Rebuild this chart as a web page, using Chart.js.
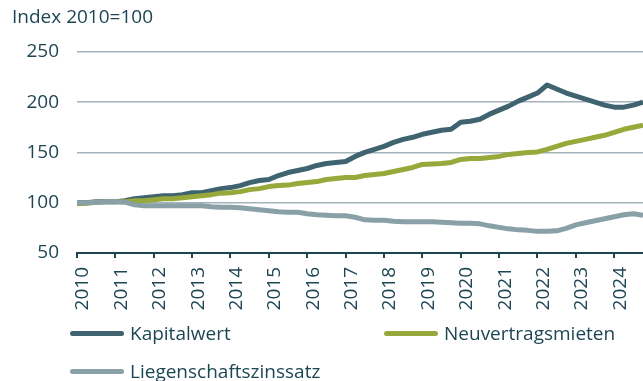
<!DOCTYPE html>
<html lang="de">
<head>
<meta charset="utf-8">
<script src="https://cdn.jsdelivr.net/npm/chart.js@4.4.1/dist/chart.umd.min.js"></script>
<style>
  html, body { margin: 0; padding: 0; background: #fff; overflow: hidden; }
  #wrap { position: relative; width: 643px; height: 381px; }
  #legend { position: absolute; left: 70px; top: 320px; width: 573px;
            font-family: "Open Sans", sans-serif; font-size: 19px; color: #1d4654;
            display: grid; grid-template-columns: 314px 259px; row-gap: 12px; }
  .item { display: flex; align-items: center; white-space: nowrap; height: 26px; }
  .swatch { width: 54px; height: 5px; border-radius: 3px; margin-right: 6px; }
</style>
</head>
<body>
<div id="wrap">
  <canvas id="indexChart" width="643" height="381"></canvas>
  <div id="legend"></div>
</div>
<script>
// Quartale 2010 Q1 bis 2024 Q4
const quarters = [];
for (let y = 2010; y <= 2024; y++) {
    for (let q = 1; q <= 4; q++) quarters.push(y + ' Q' + q);
}

// Indexwerte, 2010 = 100
const kapitalwert = [
    100, 100, 101, 101,   101, 102, 104, 105,   106, 107, 107, 108,
    110, 110, 112, 114,   115, 117, 120, 122,   123, 127, 130, 132,
    134, 137, 139, 140,   141, 146, 150, 153,   156, 160, 163, 165,
    168, 170, 172, 173,   180, 181, 183, 188,   192, 196, 201, 205,
    209, 217, 213, 209,   206, 203, 200, 197,   195, 195, 197, 200
];
const neuvertragsmieten = [
    99, 99.5, 100.5, 101, 101, 101, 102, 102,   103, 104, 104, 105,
    106, 107, 108, 109.5, 110, 111, 113, 114,   116, 117, 117.5, 119,
    120, 121, 123, 124,   125, 125, 127, 128,   129, 131, 133, 135,
    138, 138.5, 139, 140, 143, 144, 144, 145,   146, 148, 149, 150,
    150.5, 153, 156, 159, 161, 163, 165, 167,   170, 173, 175, 177
];
const liegenschaftszinssatz = [
    100, 100, 100.5, 101, 101, 100.5, 98, 97,   97, 97, 97, 97,
    97, 97, 96, 95.5,     95.5, 95, 94, 93,     92, 91, 90.5, 90.5,
    89, 88, 87.5, 87,     87, 85.5, 83, 82.5,   82.5, 81.5, 81, 81,
    81, 81, 80.5, 80,     79.5, 79.5, 79, 77,   75.5, 74, 73, 72.5,
    71.5, 71.5, 72, 74.5, 78, 80, 82, 84,       86, 88, 89, 87.5
];

const yTicks = [50, 100, 150, 200, 250];

const series = [
    { label: 'Kapitalwert', data: kapitalwert, color: '#3f6470', order: 2 },
    { label: 'Neuvertragsmieten', data: neuvertragsmieten, color: '#97a93a', order: 1 },
    { label: 'Liegenschaftszinssatz', data: liegenschaftszinssatz, color: '#89a0a7', order: 0 }
];

const textColor = '#1d4654';
const fontFamily = '"Open Sans", sans-serif';

new Chart(document.getElementById('indexChart'), {
    type: 'line',
    data: {
        labels: quarters,
        datasets: series.map(s => ({
            label: s.label,
            data: s.data,
            borderColor: s.color,
            backgroundColor: s.color,
            borderWidth: 5,
            borderJoinStyle: 'round',
            pointRadius: 0,
            tension: 0,
            order: s.order
        }))
    },
    options: {
        responsive: false,
        animation: false,
        layout: { padding: { left: 12, right: 0, top: 6, bottom: 69 } },
        plugins: {
            legend: { display: false },
            tooltip: { enabled: false },
            title: {
                display: true,
                text: 'Index 2010=100',
                align: 'start',
                color: textColor,
                font: { family: fontFamily, size: 19, weight: 'normal' },
                padding: { top: 0, bottom: 23 }
            }
        },
        scales: {
            x: {
                offset: false,
                // feste Höhe, kein Rand rechts: letzter Punkt am Canvas-Rand
                afterFit: scale => { scale.height = 59; scale.paddingRight = 0; scale.paddingLeft = 0; },
                grid: { drawOnChartArea: false, color: textColor, lineWidth: 2, tickLength: 5 },
                border: { color: textColor, width: 2 },
                ticks: {
                    autoSkip: false,
                    maxRotation: 90,
                    minRotation: 90,
                    padding: 9,
                    labelOffset: 6,
                    color: textColor,
                    font: { family: fontFamily, size: 19 },
                    callback: (v, i) => quarters[i].endsWith('Q1') ? quarters[i].slice(0, 4) : null
                }
            },
            y: {
                min: 50,
                max: 250,
                afterFit: scale => { scale.width = 65; },
                afterBuildTicks: scale => { scale.ticks = yTicks.map(v => ({ value: v })); },
                grid: { color: '#a3b3b9', lineWidth: 1.5, drawTicks: false },
                border: { display: false },
                ticks: {
                    padding: 18,
                    color: textColor,
                    font: { family: fontFamily, size: 19 }
                }
            }
        }
    }
});

// Legende in zwei Spalten
const legend = document.getElementById('legend');
series.forEach(s => {
    const item = document.createElement('div');
    item.className = 'item';
    const sw = document.createElement('span');
    sw.className = 'swatch';
    sw.style.background = s.color;
    const txt = document.createElement('span');
    txt.textContent = s.label;
    item.appendChild(sw);
    item.appendChild(txt);
    legend.appendChild(item);
});
</script>
</body>
</html>
